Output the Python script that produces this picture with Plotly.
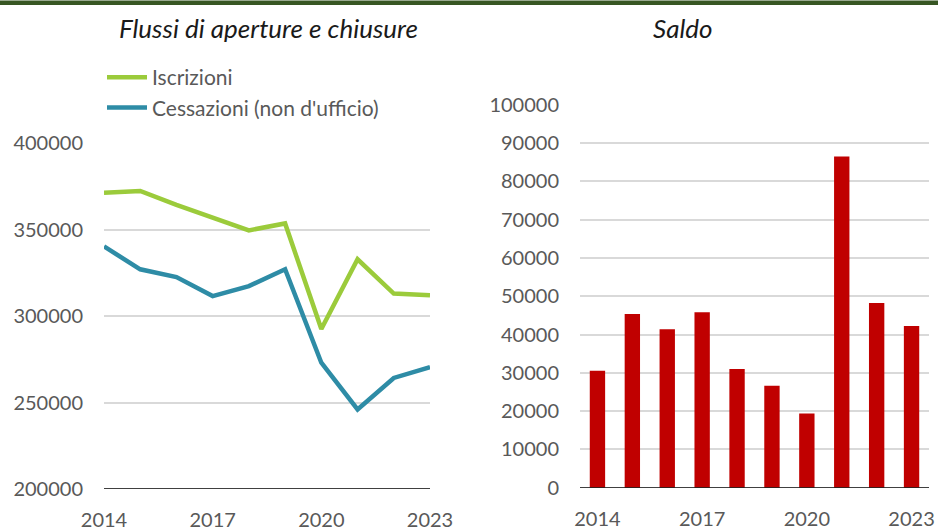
import plotly.graph_objects as go

years = [2014, 2015, 2016, 2017, 2018, 2019, 2020, 2021, 2022, 2023]
iscrizioni = [371200, 372300, 364200, 357000, 349500, 353500, 292500, 332800, 313000, 312000]
cessazioni = [340200, 327000, 322500, 311500, 317300, 327000, 273000, 246000, 264200, 270500]
saldo = [30550, 45350, 41350, 45800, 31000, 26600, 19400, 86500, 48200, 42200]
xticks = [2014, 2017, 2020, 2023]

FONT = "Lato"
GRAY = "#595959"
W, H = 938, 530

fig = go.Figure()
fig.add_trace(go.Scatter(x=years, y=iscrizioni, mode="lines", name="Iscrizioni",
                         line=dict(color="#9BCB3B", width=4.5), xaxis="x", yaxis="y"))
fig.add_trace(go.Scatter(x=years, y=cessazioni, mode="lines", name="Cessazioni (non d'ufficio)",
                         line=dict(color="#2E8CA6", width=4.5), xaxis="x", yaxis="y"))
fig.add_trace(go.Bar(x=years, y=saldo, name="Saldo", marker=dict(color="#C00000", line=dict(width=0)),
                     width=0.44, showlegend=False, xaxis="x2", yaxis="y2"))

def px_x(p):
    return p / W

def px_y(p):
    return (H - p) / H

axis_common = dict(showline=False, zeroline=False, automargin=False,
                   tickfont=dict(family=FONT, size=20, color=GRAY), fixedrange=True)

fig.update_layout(
    width=W, height=H,
    margin=dict(l=0, r=0, t=0, b=0, autoexpand=False),
    paper_bgcolor="white", plot_bgcolor="white",
    font=dict(family=FONT, color=GRAY),
    xaxis=dict(domain=[px_x(104), px_x(430)], range=[2014, 2023], tickvals=xticks,
               showgrid=False, anchor="y", ticklabelstandoff=17, **axis_common),
    yaxis=dict(domain=[px_y(489), px_y(143)], range=[200000, 400000], dtick=50000, tick0=0,
               tickformat="d", showgrid=True, gridcolor="#D9D9D9", gridwidth=1.5, anchor="x",
               ticklabelstandoff=20, **axis_common),
    xaxis2=dict(domain=[px_x(580), px_x(929)], range=[2013.5, 2023.5], tickvals=xticks,
                showgrid=False, anchor="y2", ticklabelstandoff=17, **axis_common),
    yaxis2=dict(domain=[px_y(487.7), px_y(104.7)], range=[0, 100000], dtick=10000,
                tickformat="d", showgrid=True, gridcolor="#D9D9D9", gridwidth=1.5, anchor="x2",
                ticklabelstandoff=20, **axis_common),
    bargap=0.5,
    legend=dict(x=px_x(102), y=px_y(57), xanchor="left", yanchor="top",
                font=dict(family=FONT, size=21, color=GRAY), bgcolor="rgba(0,0,0,0)",
                tracegroupgap=0, itemwidth=40),
    showlegend=True,
    annotations=[
        dict(text="<i>Flussi di aperture e chiusure</i>", x=px_x(268), y=px_y(28),
             xref="paper", yref="paper", showarrow=False, xanchor="center", yanchor="middle",
             font=dict(family=FONT, size=26, color="#1a1a1a")),
        dict(text="<i>Saldo</i>", x=px_x(683), y=px_y(28),
             xref="paper", yref="paper", showarrow=False, xanchor="center", yanchor="middle",
             font=dict(family=FONT, size=26, color="#1a1a1a")),
    ],
    shapes=[
        dict(type="rect", xref="paper", yref="paper", x0=0, x1=1, y0=px_y(5), y1=px_y(0.5),
             fillcolor="#375623", line=dict(width=0), layer="above"),
        dict(type="line", xref="x", yref="y", x0=2014, x1=2023, y0=200000, y1=200000,
             line=dict(color="black", width=1.5)),
        dict(type="line", xref="x2", yref="y2", x0=2013.5, x1=2023.5, y0=0, y1=0,
             line=dict(color="black", width=1.5), layer="above"),
    ],
)

fig.write_html("out.html", config={"displayModeBar": False},
               post_script="document.body.style.margin='0';document.body.style.overflow='hidden';")
